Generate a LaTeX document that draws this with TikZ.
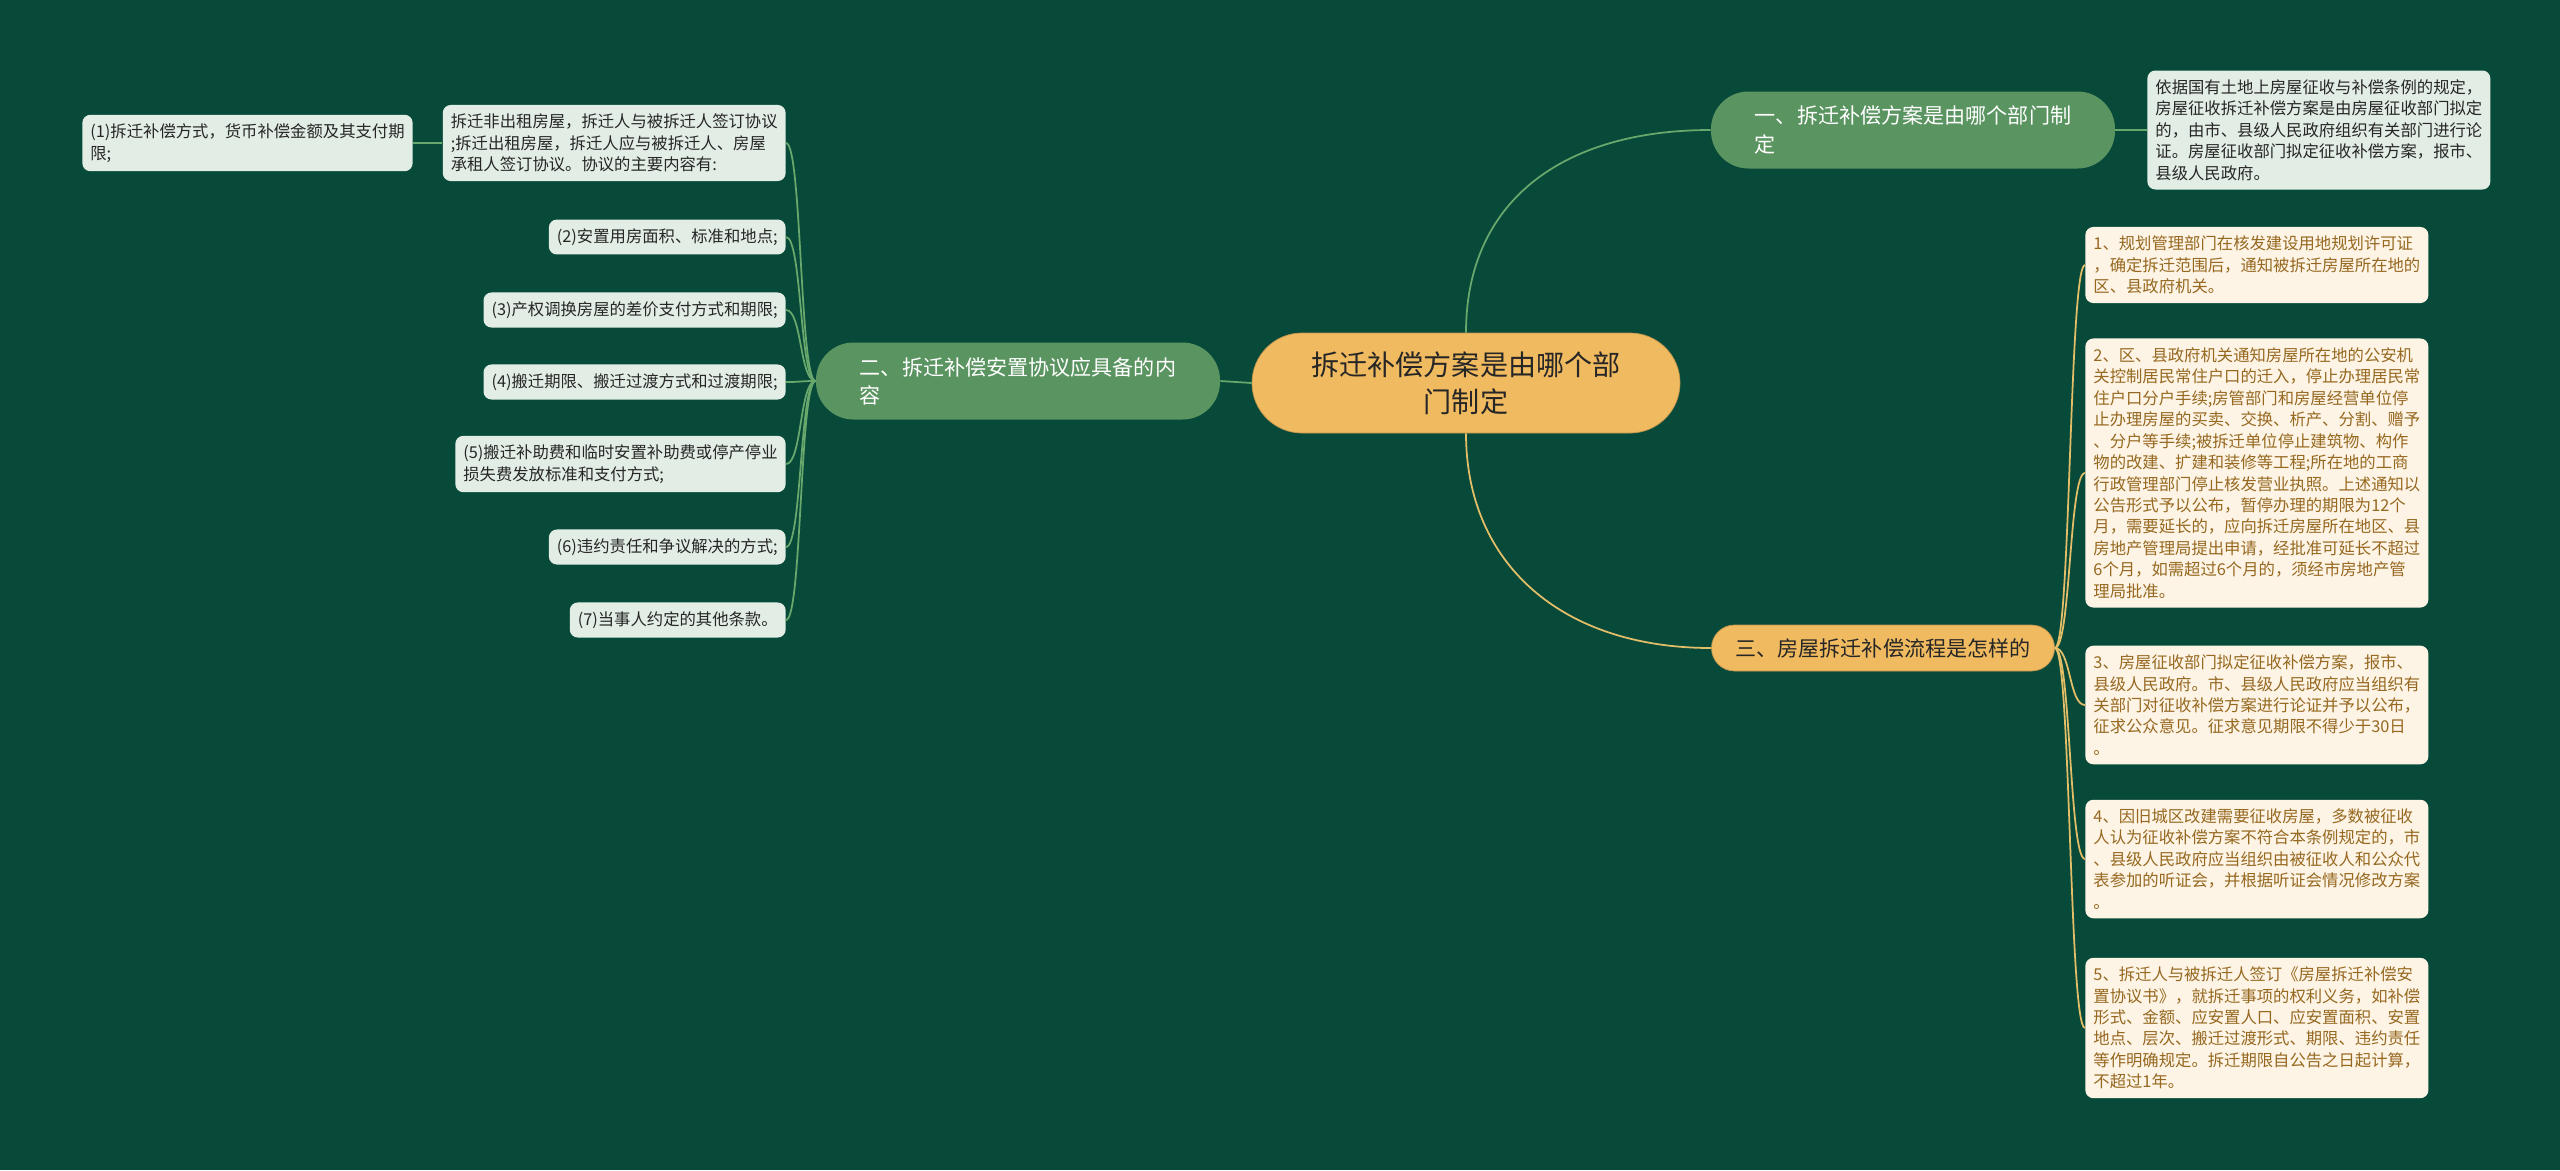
\documentclass[tikz,border=0pt]{standalone}
\usepackage{fontspec}
\setmainfont{Noto Sans CJK SC}
\usetikzlibrary{positioning}
\definecolor{bgdark}{RGB}{8,74,57}
\definecolor{branchgreen}{RGB}{90,148,96}
\definecolor{linkgreen}{RGB}{104,168,108}
\definecolor{leafgreen}{RGB}{226,237,229}
\definecolor{rootorange}{RGB}{240,186,96}
\definecolor{linkgold}{RGB}{226,190,104}
\definecolor{leafcream}{RGB}{253,244,229}
\definecolor{leaftext}{RGB}{150,104,32}
\tikzset{x=0.2mm, y=-0.2mm,
    rootnode/.style={
        fill=rootorange,
        draw=rootorange!80!black,
        rounded corners=10mm,
        minimum width=85.6mm,
        minimum height=20mm,
        align=center,
        text=black!85,
        font=\fontsize{16}{21}\selectfont},
    greenbranch/.style={
        fill=branchgreen,
        rounded corners=7.5mm,
        minimum width=80.8mm,
        minimum height=15.4mm,
        align=left,
        text=white,
        font=\fontsize{12}{16}\selectfont},
    orangebranch/.style={
        fill=rootorange,
        draw=rootorange!80!black,
        rounded corners=4.6mm,
        minimum width=68.6mm,
        minimum height=9.2mm,
        text=black!85,
        font=\fontsize{12}{16}\selectfont},
    greenleaf/.style={
        fill=leafgreen,
        rounded corners=1.6mm,
        inner xsep=1.6mm,
        inner ysep=1.8mm,
        align=left,
        text=black!85,
        font=\fontsize{9.3}{12.2}\selectfont},
    orangeleaf/.style={
        fill=leafcream,
        rounded corners=1.6mm,
        inner xsep=1.5mm,
        inner ysep=1.8mm,
        minimum width=68.6mm,
        align=left,
        text=leaftext,
        font=\fontsize{9.3}{12.2}\selectfont},
    greenlink/.style={draw=linkgreen, line width=1pt},
    goldlink/.style={draw=linkgold, line width=1pt}}
\begin{document}
\begin{tikzpicture}
    \fill[bgdark] (0,0) rectangle (2560,1170);
    \useasboundingbox (0,0) rectangle (2560,1170);

    \node[rootnode] (root) at (1466,383) {拆迁补偿方案是由哪个部\\门制定};
    \node[greenbranch] (b1) at (1913,130) {一、拆迁补偿方案是由哪个部门制\\定};
    \node[greenbranch] (b2) at (1018,381) {二、拆迁补偿安置协议应具备的内\\容};
    \node[orangebranch] (b3) at (1883,648) {三、房屋拆迁补偿流程是怎样的};

    % branch 1
    \node[greenleaf, minimum width=68.6mm, anchor=west] (n1) at (2147,130) {依据国有土地上房屋征收与补偿条例的规定，\\房屋征收拆迁补偿方案是由房屋征收部门拟定\\的，由市、县级人民政府组织有关部门进行论\\证。房屋征收部门拟定征收补偿方案，报市、\\县级人民政府。};

    % branch 2
    \node[greenleaf, anchor=east] (l0) at (786,143) {拆迁非出租房屋，拆迁人与被拆迁人签订协议\\;拆迁出租房屋，拆迁人应与被拆迁人、房屋\\承租人签订协议。协议的主要内容有:};
    \node[greenleaf, anchor=east] (l0a) at (413,143) {(1)拆迁补偿方式，货币补偿金额及其支付期\\限;};
    \node[greenleaf, anchor=east] (l1) at (786,237) {(2)安置用房面积、标准和地点;};
    \node[greenleaf, anchor=east] (l2) at (786,310) {(3)产权调换房屋的差价支付方式和期限;};
    \node[greenleaf, anchor=east] (l3) at (786,382) {(4)搬迁期限、搬迁过渡方式和过渡期限;};
    \node[greenleaf, anchor=east] (l4) at (786,464) {(5)搬迁补助费和临时安置补助费或停产停业\\损失费发放标准和支付方式;};
    \node[greenleaf, anchor=east] (l5) at (786,547) {(6)违约责任和争议解决的方式;};
    \node[greenleaf, anchor=east] (l6) at (786,620) {(7)当事人约定的其他条款。};

    % branch 3
    \node[orangeleaf, anchor=west] (r1) at (2085,265) {1、规划管理部门在核发建设用地规划许可证\\，确定拆迁范围后，通知被拆迁房屋所在地的\\区、县政府机关。};
    \node[orangeleaf, anchor=west] (r2) at (2085,473) {2、区、县政府机关通知房屋所在地的公安机\\关控制居民常住户口的迁入，停止办理居民常\\住户口分户手续;房管部门和房屋经营单位停\\止办理房屋的买卖、交换、析产、分割、赠予\\、分户等手续;被拆迁单位停止建筑物、构作\\物的改建、扩建和装修等工程;所在地的工商\\行政管理部门停止核发营业执照。上述通知以\\公告形式予以公布，暂停办理的期限为12个\\月，需要延长的，应向拆迁房屋所在地区、县\\房地产管理局提出申请，经批准可延长不超过\\6个月，如需超过6个月的，须经市房地产管\\理局批准。};
    \node[orangeleaf, anchor=west] (r3) at (2085,705) {3、房屋征收部门拟定征收补偿方案，报市、\\县级人民政府。市、县级人民政府应当组织有\\关部门对征收补偿方案进行论证并予以公布，\\征求公众意见。征求意见期限不得少于30日\\。};
    \node[orangeleaf, anchor=west] (r4) at (2085,859) {4、因旧城区改建需要征收房屋，多数被征收\\人认为征收补偿方案不符合本条例规定的，市\\、县级人民政府应当组织由被征收人和公众代\\表参加的听证会，并根据听证会情况修改方案\\。};
    \node[orangeleaf, anchor=west] (r5) at (2085,1028) {5、拆迁人与被拆迁人签订《房屋拆迁补偿安\\置协议书》，就拆迁事项的权利义务，如补偿\\形式、金额、应安置人口、应安置面积、安置\\地点、层次、搬迁过渡形式、期限、违约责任\\等作明确规定。拆迁期限自公告之日起计算，\\不超过1年。};

    % connectors
    \draw[greenlink] (root.north) .. controls +(0,-130) and +(-150,0) .. (b1.west);
    \draw[greenlink] (root.west) -- (b2.east);
    \draw[goldlink] (root.south) .. controls +(0,130) and +(-150,0) .. (b3.west);
    \draw[greenlink] (b1.east) -- (n1.west);
    \draw[greenlink] (l0.west) -- (l0a.east);
    \foreach \n in {l0,l1,l2,l3,l4,l5,l6}
        \draw[greenlink] (b2.west) .. controls +(-16,0) and +(16,0) .. (\n.east);
    \foreach \n in {r1,r2,r3,r4,r5}
        \draw[goldlink] (b3.east) .. controls +(16,0) and +(-16,0) .. (\n.west);
\end{tikzpicture}
\end{document}
